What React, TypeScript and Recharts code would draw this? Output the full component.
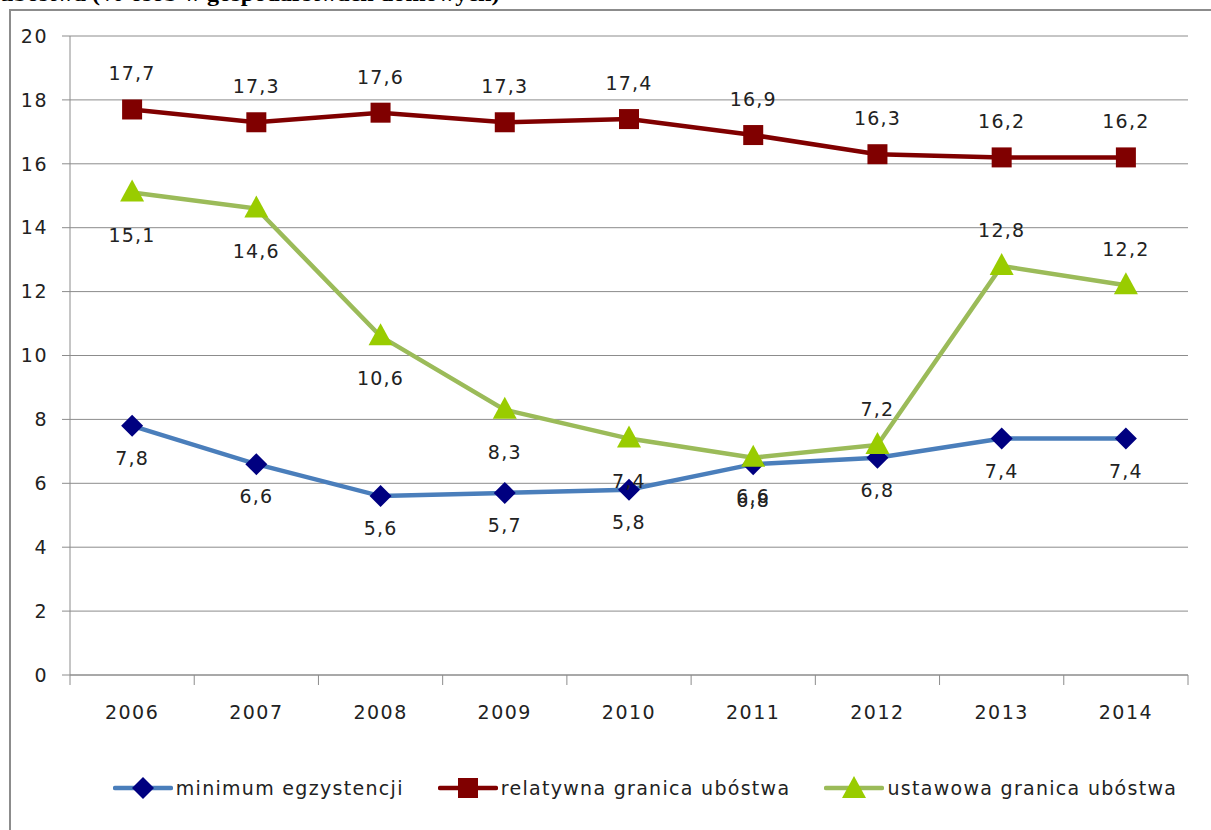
import {
  CartesianGrid,
  Legend,
  Line,
  LineChart,
  XAxis,
  YAxis,
} from "recharts";

const years = ["2006", "2007", "2008", "2009", "2010", "2011", "2012", "2013", "2014"];
const minimumEgzystencji = [7.8, 6.6, 5.6, 5.7, 5.8, 6.6, 6.8, 7.4, 7.4];
const relatywnaGranica = [17.7, 17.3, 17.6, 17.3, 17.4, 16.9, 16.3, 16.2, 16.2];
const ustawowaGranica = [15.1, 14.6, 10.6, 8.3, 7.4, 6.8, 7.2, 12.8, 12.2];
const yTicks = [0, 2, 4, 6, 8, 10, 12, 14, 16, 18, 20];

const seriesNames = {
  min: "minimum egzystencji",
  rel: "relatywna granica ubóstwa",
  ust: "ustawowa granica ubóstwa",
};

const data = years.map((year, i) => ({
  year,
  min: minimumEgzystencji[i],
  rel: relatywnaGranica[i],
  ust: ustawowaGranica[i],
}));

const FONT = "'DejaVu Sans', sans-serif";
const TEXT = "#222";
const GRID = "#8c8c8c";
const WIDTH = 1211;
const HEIGHT = 830;
const PLOT_LEFT = 70;
const PLOT_RIGHT = 1188;
const BAND = (PLOT_RIGHT - PLOT_LEFT) / years.length;

const fmt = (v: number) => String(v).replace(".", ",");

const Diamond = (props: any) => {
  const { cx, cy, fill } = props;
  if (cx == null || cy == null) return null;
  const r = 11;
  return (
    <path
      d={`M${cx},${cy - r}L${cx + r},${cy}L${cx},${cy + r}L${cx - r},${cy}Z`}
      fill={fill}
    />
  );
};

const Square = (props: any) => {
  const { cx, cy, fill } = props;
  if (cx == null || cy == null) return null;
  const s = 10;
  return <rect x={cx - s} y={cy - s} width={s * 2} height={s * 2} fill={fill} />;
};

const Triangle = (props: any) => {
  const { cx, cy, fill } = props;
  if (cx == null || cy == null) return null;
  return (
    <path
      d={`M${cx},${cy - 13}L${cx + 12},${cy + 9}L${cx - 12},${cy + 9}Z`}
      fill={fill}
    />
  );
};

const makeLabel = (pick: (index: number) => number) => (props: any) => {
  const { x, y, value, index } = props;
  return (
    <text
      x={x}
      y={y + pick(index)}
      textAnchor="middle"
      dominantBaseline="central"
      fontFamily={FONT}
      fontSize={19}
      letterSpacing={1.2}
      fill={TEXT}
    >
      {fmt(value)}
    </text>
  );
};

const minLabel = makeLabel(() => 32);
const relLabel = makeLabel(() => -36);
const ustLabel = makeLabel((i) => (i < 6 ? 42 : -36));

const XTick = (props: any) => {
  const { x, y, payload, index } = props;
  const left = x - BAND / 2;
  return (
    <g>
      <line x1={left} y1={y} x2={left} y2={y + 10} stroke={GRID} />
      {index === years.length - 1 && (
        <line x1={x + BAND / 2} y1={y} x2={x + BAND / 2} y2={y + 10} stroke={GRID} />
      )}
      <text
        x={x}
        y={y + 44}
        textAnchor="middle"
        fontFamily={FONT}
        fontSize={19}
        letterSpacing={1.5}
        fill={TEXT}
      >
        {payload.value}
      </text>
    </g>
  );
};

const legendItems = [
  { name: seriesNames.min, line: "#4a7ebb", marker: "diamond", color: "#000080" },
  { name: seriesNames.rel, line: "#800000", marker: "square", color: "#800000" },
  { name: seriesNames.ust, line: "#9bbb59", marker: "triangle", color: "#99cc00" },
];

const LegendContent = () => (
  <div
    style={{
      display: "flex",
      justifyContent: "center",
      alignItems: "center",
      gap: 34,
      fontFamily: FONT,
      fontSize: 19,
      letterSpacing: 1.3,
      color: TEXT,
    }}
  >
    {legendItems.map((item) => (
      <div key={item.name} style={{ display: "flex", alignItems: "center" }}>
        <svg width={60} height={24}>
          <line x1={2} y1={12} x2={58} y2={12} stroke={item.line} strokeWidth={4.5} strokeLinecap="round" />
          {item.marker === "diamond" && <Diamond cx={30} cy={12} fill={item.color} />}
          {item.marker === "square" && <Square cx={30} cy={12} fill={item.color} />}
          {item.marker === "triangle" && <Triangle cx={30} cy={13} fill={item.color} />}
        </svg>
        <span style={{ marginLeft: 3 }}>{item.name}</span>
      </div>
    ))}
  </div>
);

export default function App() {
  return (
    <div
      style={{
        position: "fixed",
        left: 0,
        top: 0,
        width: WIDTH,
        height: HEIGHT,
        overflow: "hidden",
        background: "#fff",
      }}
    >
      <div
        style={{
          position: "absolute",
          left: 0,
          top: -17,
          fontFamily: "'Liberation Serif', serif",
          fontWeight: "bold",
          fontSize: 22,
          lineHeight: "22px",
          whiteSpace: "nowrap",
          transform: "scaleX(1.1)",
          transformOrigin: "left",
          color: "#000",
        }}
      >
        ubóstwa (% osób w gospodarstwach domowych)
      </div>
      <div
        style={{
          position: "absolute",
          left: 9,
          top: 9,
          width: 1400,
          height: 1000,
          border: "2px solid #8c8c8c",
        }}
      />
      <div style={{ position: "absolute", left: 0, top: 0 }}>
        <LineChart
          width={WIDTH}
          height={HEIGHT}
          data={data}
          margin={{ top: 36, right: WIDTH - PLOT_RIGHT, bottom: 95, left: 20 }}
        >
          <CartesianGrid horizontal vertical={false} stroke={GRID} />
          <XAxis
            dataKey="year"
            stroke={GRID}
            tickLine={false}
            tickSize={0}
            tickMargin={0}
            height={60}
            tick={<XTick />}
            interval={0}
            padding={{ left: BAND / 2, right: BAND / 2 }}
          />
          <YAxis
            width={50}
            domain={[0, 20]}
            ticks={yTicks}
            interval={0}
            stroke={GRID}
            tickSize={8}
            tickMargin={14}
            tick={{ fill: TEXT, fontFamily: FONT, fontSize: 19, letterSpacing: 1.5 }}
          />
          <Legend
            layout="horizontal"
            verticalAlign="middle"
            align="center"
            content={<LegendContent />}
            wrapperStyle={{ position: "absolute", top: 776, left: 0, width: 1290 }}
          />
          <Line
            name={seriesNames.min}
            dataKey="min"
            stroke="#4a7ebb"
            strokeWidth={4.5}
            dot={<Diamond fill="#000080" />}
            activeDot={false}
            label={minLabel}
            isAnimationActive={false}
          />
          <Line
            name={seriesNames.ust}
            dataKey="ust"
            stroke="#9bbb59"
            strokeWidth={4.5}
            dot={<Triangle fill="#99cc00" />}
            activeDot={false}
            label={ustLabel}
            isAnimationActive={false}
          />
          <Line
            name={seriesNames.rel}
            dataKey="rel"
            stroke="#800000"
            strokeWidth={4.5}
            dot={<Square fill="#800000" />}
            activeDot={false}
            label={relLabel}
            isAnimationActive={false}
          />
        </LineChart>
      </div>
    </div>
  );
}
